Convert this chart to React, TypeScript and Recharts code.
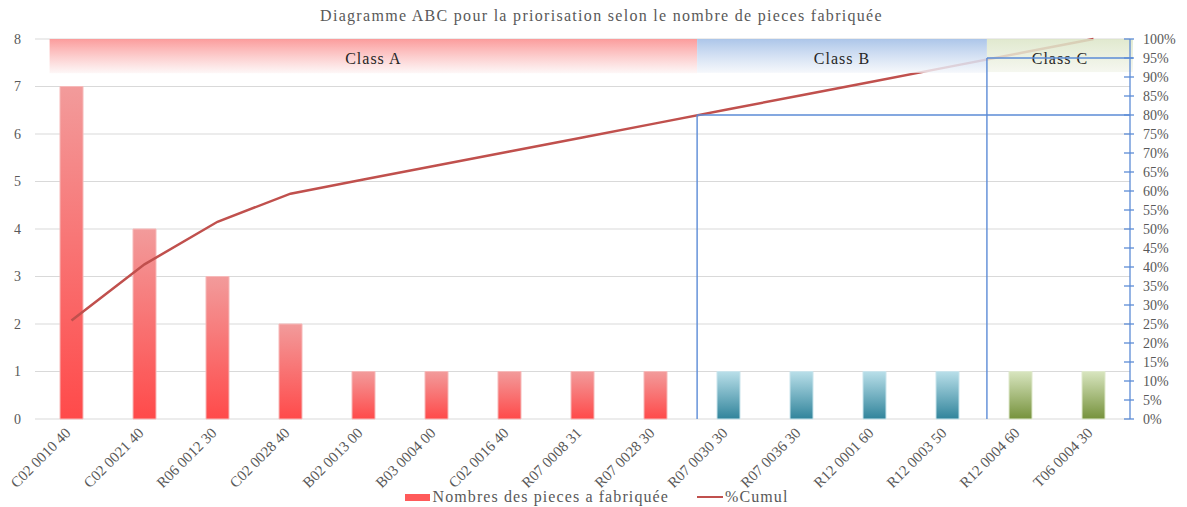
import React from 'react';
import {
  ComposedChart,
  Bar,
  Line,
  Cell,
  XAxis,
  YAxis,
  CartesianGrid,
  Legend,
  ReferenceArea,
  ReferenceLine,
} from 'recharts';

const FONT = '"Liberation Serif", "Times New Roman", serif';
const TEXT_GREY = '#595959';
const GUIDE_BLUE = '#5b8bd6';

// Part references, sorted by number of pieces
const categories = [
  'C02 0010 40',
  'C02 0021 40',
  'R06 0012 30',
  'C02 0028 40',
  'B02 0013 00',
  'B03 0004 00',
  'C02 0016 40',
  'R07 0008 31',
  'R07 0028 30',
  'R07 0030 30',
  'R07 0036 30',
  'R12 0001 60',
  'R12 0003 50',
  'R12 0004 60',
  'T06 0004 30',
];
const pieces = [7, 4, 3, 2, 1, 1, 1, 1, 1, 1, 1, 1, 1, 1, 1];
const cumul = [25.9, 40.7, 51.9, 59.3, 63.0, 66.7, 70.4, 74.1, 77.8, 81.5, 85.2, 88.9, 92.6, 96.3, 100];
const abcClass = ['A', 'A', 'A', 'A', 'A', 'A', 'A', 'A', 'A', 'B', 'B', 'B', 'B', 'C', 'C'];

const countTicks = [0, 1, 2, 3, 4, 5, 6, 7, 8];
const pctTicks = [0, 5, 10, 15, 20, 25, 30, 35, 40, 45, 50, 55, 60, 65, 70, 75, 80, 85, 90, 95, 100];

const chartData = categories.map((name, i) => ({
  name,
  idx: i,
  pieces: pieces[i],
  cumul: cumul[i],
  cls: abcClass[i],
}));

const barStyle: Record<string, { fill: string; stroke: string }> = {
  A: { fill: 'url(#barA)', stroke: '#f6b9b9' },
  B: { fill: 'url(#barB)', stroke: '#c9e4ec' },
  C: { fill: 'url(#barC)', stroke: '#dfe9cc' },
};

const XTick = (props: any) => {
  const { x, y, payload } = props;
  const tx = x;
  const ty = y + 15;
  return (
    <text
      x={tx}
      y={ty}
      transform={`rotate(-45, ${tx}, ${ty})`}
      textAnchor="end"
      fill={TEXT_GREY}
      fontSize={15}
      fontFamily={FONT}
    >
      {payload.value}
    </text>
  );
};

const PctTick = (props: any) => {
  const { x, y, payload } = props;
  return (
    <g>
      <line x1={x - 6} x2={x + 4} y1={y} y2={y} stroke={GUIDE_BLUE} strokeWidth={1.3} />
      <text x={x + 13} y={y} dy="0.35em" textAnchor="start" fill={TEXT_GREY} fontSize={14} fontFamily={FONT}>
        {payload.value}%
      </text>
    </g>
  );
};

// class band with its caption drawn inside
const bandShape = (label: string, gradId: string) => (props: any) => {
  const { x, y, width, height } = props;
  return (
    <g>
      <rect x={x} y={y} width={width} height={height} fill={`url(#${gradId})`} />
      <text
        x={x + width / 2}
        y={y + 19}
        dy="0.35em"
        textAnchor="middle"
        fill="#262626"
        fontSize={16}
        letterSpacing={1}
        fontFamily={FONT}
      >
        {label}
      </text>
    </g>
  );
};

const LegendContent = () => (
  <div
    style={{
      height: 20,
      display: 'flex',
      justifyContent: 'center',
      alignItems: 'center',
      fontFamily: FONT,
      fontSize: 16,
      letterSpacing: 1.1,
      color: TEXT_GREY,
      paddingLeft: 6,
    }}
  >
    <span style={{ display: 'inline-block', width: 25, height: 7, background: '#ff5a5a', marginRight: 3 }} />
    <span>Nombres des pieces a fabriquée</span>
    <span
      style={{ display: 'inline-block', width: 26, height: 2.5, background: '#c0504d', marginLeft: 28, marginRight: 2 }}
    />
    <span>%Cumul</span>
  </div>
);

export default function App() {
  return (
    <div style={{ position: 'absolute', left: 0, top: 0, width: 1187, height: 507, background: '#fff' }}>
      <div
        style={{
          position: 'absolute',
          top: 7,
          left: 0,
          width: 1187,
          textAlign: 'center',
          fontFamily: FONT,
          fontSize: 16,
          letterSpacing: 1.3,
          color: TEXT_GREY,
          paddingLeft: 16,
          boxSizing: 'border-box',
        }}
      >
        Diagramme ABC pour la priorisation selon le nombre de pieces fabriquée
      </div>
      <ComposedChart
        width={1187}
        height={507}
        data={chartData}
        margin={{ top: 39, right: 0, bottom: 0, left: 0 }}
        barCategoryGap={0}
      >
        <defs>
          <linearGradient id="barA" x1="0" y1="0" x2="0" y2="1">
            <stop offset="0%" stopColor="#f29b9b" />
            <stop offset="100%" stopColor="#ff4a4a" />
          </linearGradient>
          <linearGradient id="barB" x1="0" y1="0" x2="0" y2="1">
            <stop offset="0%" stopColor="#b9dfe9" />
            <stop offset="100%" stopColor="#31849b" />
          </linearGradient>
          <linearGradient id="barC" x1="0" y1="0" x2="0" y2="1">
            <stop offset="0%" stopColor="#d8e5bf" />
            <stop offset="100%" stopColor="#76923c" />
          </linearGradient>
          <linearGradient id="bandA" x1="0" y1="0" x2="0" y2="1">
            <stop offset="0%" stopColor="#fb9797" stopOpacity={0.95} />
            <stop offset="100%" stopColor="#fdf6f6" stopOpacity={0.85} />
          </linearGradient>
          <linearGradient id="bandB" x1="0" y1="0" x2="0" y2="1">
            <stop offset="0%" stopColor="#a8c3e8" stopOpacity={0.95} />
            <stop offset="100%" stopColor="#f3f6fb" stopOpacity={0.8} />
          </linearGradient>
          <linearGradient id="bandC" x1="0" y1="0" x2="0" y2="1">
            <stop offset="0%" stopColor="#dbe5c6" stopOpacity={0.85} />
            <stop offset="100%" stopColor="#f3f5ec" stopOpacity={0.8} />
          </linearGradient>
        </defs>
        <CartesianGrid yAxisId="left" vertical={false} stroke="#d9d9d9" />
        <XAxis
          dataKey="name"
          xAxisId="cat"
          height={68}
          interval={0}
          axisLine={false}
          tickLine={false}
          tickSize={0}
          tickMargin={0}
          tick={<XTick />}
        />
        {/* index axis: category i sits at value i */}
        <XAxis xAxisId="pos" dataKey="idx" type="number" domain={[-0.5, 14.5]} allowDataOverflow hide />
        <YAxis
          yAxisId="left"
          width={35}
          domain={[0, 8]}
          ticks={countTicks}
          interval={0}
          axisLine={false}
          tickLine={false}
          tickMargin={8}
          tick={{ fill: TEXT_GREY, fontSize: 14, fontFamily: FONT }}
        />
        <YAxis
          yAxisId="pct"
          orientation="right"
          width={57}
          domain={[0, 100]}
          ticks={pctTicks}
          interval={0}
          axisLine={{ stroke: GUIDE_BLUE, strokeWidth: 1.3 }}
          tickLine={false}
          tickSize={0}
          tickMargin={0}
          tick={<PctTick />}
        />
        <Legend verticalAlign="bottom" height={20} content={<LegendContent />} />
        <Bar
          dataKey="pieces"
          xAxisId="cat"
          yAxisId="left"
          barSize={23}
          isAnimationActive={false}
          legendType="rect"
        >
          {chartData.map((d) => (
            <Cell key={d.name} fill={barStyle[d.cls].fill} stroke={barStyle[d.cls].stroke} strokeWidth={1} />
          ))}
        </Bar>
        <Line
          dataKey="cumul"
          xAxisId="cat"
          yAxisId="pct"
          type="linear"
          stroke="#c0504d"
          strokeWidth={2.5}
          dot={false}
          activeDot={false}
          isAnimationActive={false}
        />
        <ReferenceArea
          xAxisId="pos"
          yAxisId="pct"
          x1={-0.3}
          x2={8.57}
          y1={91}
          y2={100}
          ifOverflow="visible"
          zIndex={450}
          shape={bandShape('Class A', 'bandA')}
        />
        <ReferenceArea
          xAxisId="pos"
          yAxisId="pct"
          x1={8.57}
          x2={12.54}
          y1={91.1}
          y2={100}
          ifOverflow="visible"
          zIndex={450}
          shape={bandShape('Class B', 'bandB')}
        />
        <ReferenceArea
          xAxisId="pos"
          yAxisId="pct"
          x1={12.54}
          x2={14.54}
          y1={91.3}
          y2={100}
          ifOverflow="visible"
          zIndex={450}
          shape={bandShape('Class C', 'bandC')}
        />
        {/* 80 % and 95 % cut-off guides */}
        <ReferenceLine
          xAxisId="pos"
          yAxisId="pct"
          segment={[{ x: 8.57, y: 0 }, { x: 8.57, y: 80 }]}
          stroke={GUIDE_BLUE}
          strokeWidth={1.4}
          ifOverflow="visible"
          zIndex={500}
        />
        <ReferenceLine
          xAxisId="pos"
          yAxisId="pct"
          segment={[{ x: 8.57, y: 80 }, { x: 14.5, y: 80 }]}
          stroke={GUIDE_BLUE}
          strokeWidth={1.4}
          ifOverflow="visible"
          zIndex={500}
        />
        <ReferenceLine
          xAxisId="pos"
          yAxisId="pct"
          segment={[{ x: 12.54, y: 0 }, { x: 12.54, y: 95 }]}
          stroke={GUIDE_BLUE}
          strokeWidth={1.4}
          ifOverflow="visible"
          zIndex={500}
        />
        <ReferenceLine
          xAxisId="pos"
          yAxisId="pct"
          segment={[{ x: 12.54, y: 95 }, { x: 14.54, y: 95 }]}
          stroke={GUIDE_BLUE}
          strokeWidth={1.4}
          ifOverflow="visible"
          zIndex={500}
        />
      </ComposedChart>
    </div>
  );
}
